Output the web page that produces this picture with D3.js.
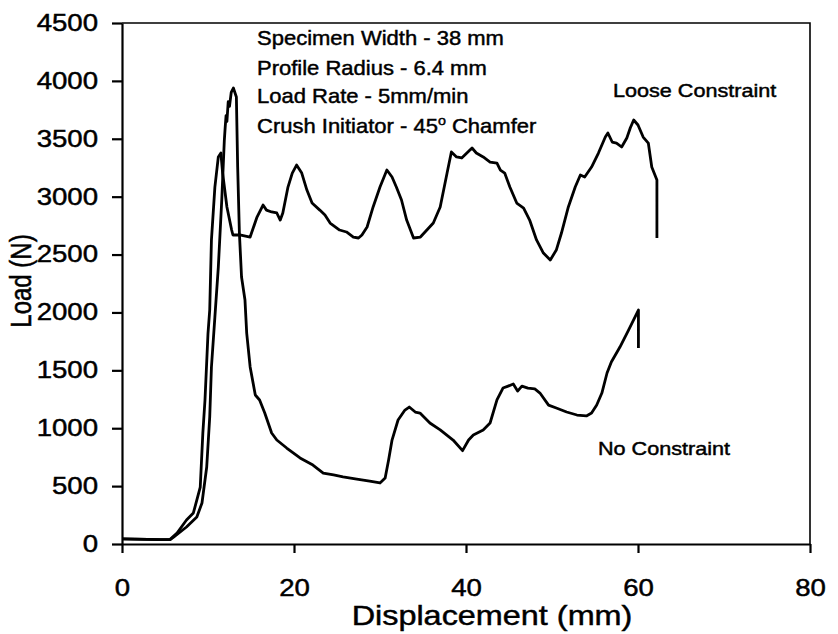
<!DOCTYPE html>
<html>
<head>
<meta charset="utf-8">
<script src="https://cdn.jsdelivr.net/npm/d3@7"></script>
<style>
  body { margin: 0; background: #fff; }
  svg { display: block; }
  text { font-family: "Liberation Sans", Arial, sans-serif; fill: #000; stroke: #000; stroke-width: 0.45px; }
</style>
</head>
<body>
<svg id="chart"></svg>
<script>
// load vs displacement traces as [mm, N]
const looseConstraint = [
  [0,45],[1.5,42],[3,40],[4.5,38],[5.6,40],[6.4,95],[7.5,207],[8.3,268],[9.1,492],[9.4,958],
  [9.65,1244],[10.0,1820],[10.2,2021],[10.4,2626],[10.8,3083],[11.2,3343],[11.5,3377],[11.7,3204],
  [12.2,2911],[12.75,2712],[12.9,2669],[13.7,2669],[14.9,2651],[15.7,2824],[16.4,2928],[16.8,2884],
  [17.4,2868],[18.0,2859],[18.4,2798],[18.7,2859],[19.3,3083],[19.8,3204],[20.3,3273],[20.9,3204],
  [21.5,3057],[22.1,2945],[23.0,2884],[23.6,2841],[24.2,2772],[25.3,2712],[26.1,2695],[26.9,2651],
  [27.5,2643],[27.9,2669],[28.5,2738],[29.2,2911],[30.0,3083],[30.8,3230],[31.4,3170],[31.9,3083],
  [32.5,2971],[33.1,2798],[33.9,2643],[34.7,2651],[36.2,2772],[37.0,2911],[37.8,3204],[38.3,3386],
  [38.9,3343],[39.5,3334],[40.1,3377],[40.7,3420],[41.2,3377],[42.0,3343],[42.8,3299],[43.6,3290],
  [44.0,3230],[44.5,3204],[45.1,3083],[45.9,2945],[46.7,2902],[47.4,2798],[48.2,2626],[49.0,2513],
  [49.8,2453],[50.5,2539],[51.1,2686],[51.9,2911],[52.7,3083],[53.3,3187],[53.8,3170],[54.6,3256],
  [55.4,3377],[56.2,3515],[56.5,3550],[57.0,3472],[57.5,3463],[58.1,3429],[58.7,3507],[59.1,3593],
  [59.5,3662],[60.0,3619],[60.6,3515],[61.2,3463],[61.6,3256],[62.2,3144],[62.2,2643]
];

const noConstraint = [
  [0,45],[1.5,42],[3,40],[4.5,37],[5.6,38],[6.0,60],[7.5,147],[8.7,233],[9.3,354],[9.85,665],
  [10.2,1097],[10.4,1529],[10.8,1960],[11.2,2392],[11.6,2971],[11.9,3489],[12.0,3600],[12.1,3700],
  [12.2,3650],[12.35,3820],[12.5,3780],[12.7,3900],[12.95,3938],[13.3,3861],[13.45,3256],[13.65,2686],
  [13.9,2306],[14.3,2107],[14.5,1822],[14.9,1529],[15.5,1287],[16.0,1244],[16.6,1131],[17.4,959],
  [18.0,898],[19.15,829],[20.7,743],[22.2,682],[23.4,613],[24.6,596],[25.7,579],[27.3,561],
  [28.8,544],[30.0,527],[30.6,570],[31.0,725],[31.4,898],[32.1,1071],[32.9,1157],[33.4,1183],
  [34.1,1140],[34.65,1131],[35.8,1045],[37.0,985],[38.5,898],[39.6,806],[40.3,898],[40.85,941],
  [42.0,985],[42.8,1045],[43.6,1244],[44.3,1347],[44.9,1364],[45.5,1382],[46.0,1321],[46.5,1364],
  [47.2,1347],[48.0,1339],[48.6,1304],[49.6,1200],[50.5,1175],[51.7,1140],[52.9,1114],[54.0,1106],
  [54.6,1131],[55.2,1200],[55.8,1304],[56.4,1477],[56.9,1572],[57.9,1701],[58.9,1848],[60.05,2021],
  [60.05,1693]
];

const xTicks = [0, 20, 40, 60, 80];
const yTicks = [0, 500, 1000, 1500, 2000, 2500, 3000, 3500, 4000, 4500];

const notes = [
  "Specimen Width - 38 mm",
  "Profile Radius - 6.4 mm",
  "Load Rate - 5mm/min",
  "Crush Initiator - 45"
];

const W = 838, H = 634;
const margin = {top: 23, right: 28, bottom: 90, left: 122};
const w = W - margin.left - margin.right,
  h = H - margin.top - margin.bottom;
const stretch = 1.2; // the scanned figure is wider than it is tall

const svg = d3.select('#chart').attr('width', W).attr('height', H);
const g = svg.append('g').attr('transform', `translate(${margin.left},${margin.top})`);

const x = d3.scaleLinear().domain([0, 80]).range([0, w]);
const y = d3.scaleLinear().domain([0, 4500]).range([h, 0]);

// frame top + right
g.append('path')
  .attr('d', `M0,0H${w}V${h}`)
  .attr('fill', 'none')
  .attr('stroke', '#000')
  .attr('stroke-width', 1.6);

const xAxis = g.append('g')
  .attr('transform', `translate(0,${h})`)
  .call(d3.axisBottom(x).tickValues(xTicks).tickFormat(d3.format('d'))
    .tickSize(9).tickPadding(27).tickSizeOuter(0));

const yAxis = g.append('g')
  .call(d3.axisLeft(y).tickValues(yTicks).tickFormat(d3.format('d'))
    .tickSize(10).tickPadding(14).tickSizeOuter(0));

[xAxis, yAxis].forEach(a => {
  a.selectAll('path, line').attr('stroke', '#000').attr('stroke-width', 2.2);
  a.selectAll('text')
    .attr('fill', '#000')
    .style('font-size', '23px')
    .attr('font-family', null);
});
xAxis.selectAll('text')
  .attr('transform', `scale(${stretch},1)`);
yAxis.selectAll('text')
  .attr('transform', `translate(-24,0) scale(${stretch},1) translate(24,0)`);

const line = d3.line()
  .x(d => x(d[0]))
  .y(d => y(d[1]));

[looseConstraint, noConstraint].forEach(s => {
  g.append('path')
    .datum(s)
    .attr('d', line)
    .attr('fill', 'none')
    .attr('stroke', '#000')
    .attr('stroke-width', 2.8)
    .attr('stroke-linejoin', 'round');
});

// axis titles
svg.append('text')
  .attr('transform', `translate(492,625) scale(${stretch},1)`)
  .attr('text-anchor', 'middle')
  .style('font-size', '27px')
  .text('Displacement (mm)');

svg.append('text')
  .attr('transform', `translate(31,281) scale(${stretch},1) rotate(-90)`)
  .attr('text-anchor', 'middle')
  .style('font-size', '24px')
  .text('Load (N)');

// test conditions
const note = svg.append('g')
  .attr('transform', 'translate(257,45) scale(1.1,1)');
const lineGap = [0, 30, 58, 88];
notes.forEach((t, i) => {
  const txt = note.append('text')
    .attr('y', lineGap[i])
    .style('font-size', '20px')
    .text(t);
  if (i === notes.length - 1) {
    txt.append('tspan').attr('dy', -8).style('font-size', '13px').text('o');
    txt.append('tspan').attr('dy', 8).text(' Chamfer');
  }
});

// curve labels
svg.append('text')
  .attr('transform', `translate(613,97) scale(${stretch},1)`)
  .style('font-size', '18px')
  .text('Loose Constraint');

svg.append('text')
  .attr('transform', `translate(598,455) scale(${stretch},1)`)
  .style('font-size', '18px')
  .text('No Constraint');
</script>
</body>
</html>
